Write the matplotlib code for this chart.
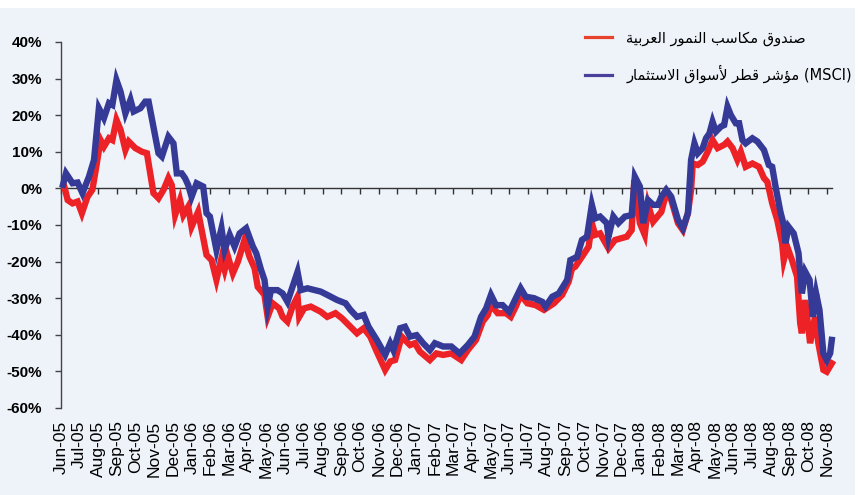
import matplotlib
matplotlib.use('Agg')
import matplotlib.pyplot as plt
from matplotlib.lines import Line2D
from matplotlib.patches import Rectangle
import pandas as pd

# months since 1 Jun 2005 and index values in %
months_msci = [0.11, 0.27, 0.62, 0.89, 1.15, 1.50, 1.77, 2.03, 2.30, 2.57, 2.75, 2.97, 3.19, 3.45, 3.72,
               3.89, 4.25, 4.51, 4.69, 5.22, 5.40, 5.75, 6.02, 6.20, 6.46, 6.64, 6.81, 6.99, 7.26, 7.61,
               7.79, 7.97, 8.32, 8.59, 8.76, 9.03, 9.29, 9.56, 9.91, 10.27, 10.45, 10.71, 10.89, 11.06,
               11.24, 11.59, 11.86, 12.12, 12.39, 12.66, 12.84, 13.19, 13.90, 14.25, 14.78, 15.23, 15.49,
               15.84, 16.20, 16.46, 16.90, 17.35, 17.62, 17.79, 18.15, 18.41, 18.68, 19.03, 19.38, 19.74,
               20.01, 20.45, 20.89, 21.33, 21.77, 22.13, 22.48, 22.75, 23.01, 23.28, 23.63, 23.99, 24.25,
               24.60, 24.87, 25.32, 25.76, 25.93, 26.29, 26.64, 27.09, 27.26, 27.62, 27.88, 28.15, 28.41,
               28.59, 28.85, 29.21, 29.30, 29.56, 29.83, 30.18, 30.54, 30.71, 30.98, 31.16, 31.42, 31.69,
               31.95, 32.13, 32.39, 32.66, 33.02, 33.28, 33.55, 33.72, 33.90, 34.08, 34.34, 34.52, 34.70,
               34.87, 35.05, 35.32, 35.49, 35.67, 35.85, 36.11, 36.29, 36.47, 36.64, 37.00, 37.27, 37.62,
               37.88, 38.06, 38.24, 38.50, 38.68, 38.77, 38.94, 39.21, 39.47, 39.65, 39.83, 40.06, 40.24,
               40.41, 40.59, 40.80, 40.98, 41.16, 41.25]
msci = [1.0, 4.1, 1.4, 1.6, -1.3, 3.2, 7.8, 21.9, 19.2, 23.3, 22.8, 29.6, 26.4, 20.5, 24.2,
        21.0, 21.9, 23.7, 23.7, 9.6, 8.7, 14.1, 12.3, 4.1, 4.1, 2.8, 0.9, -2.3, 1.4, 0.5,
        -6.8, -7.7, -16.8, -10.9, -16.8, -12.7, -15.9, -12.3, -10.9, -15.9, -17.7, -22.3, -25.0, -32.3,
        -27.8, -27.8, -28.7, -31.0, -26.9, -22.8, -27.8, -27.3, -28.2, -29.1, -30.5, -31.4, -33.2,
        -35.1, -34.6, -37.8, -41.4, -45.5, -42.3, -44.2, -38.2, -37.8, -40.5, -40.1, -42.3, -44.2,
        -42.3, -43.2, -43.2, -45.1, -42.8, -40.5, -35.1, -32.8, -29.1, -31.9, -31.9, -33.7, -31.0,
        -27.3, -29.6, -30.0, -31.0, -32.3, -29.6, -28.7, -25.0, -19.6, -18.7, -14.1, -13.2, -4.5,
        -8.2, -7.7, -9.5, -13.2, -7.7, -9.5, -7.7, -7.3, 3.2, 0.5, -9.5, -3.2, -4.5,
        -4.5, -2.3, -0.4, -2.3, -8.6, -10.9, -6.8, 7.8, 12.3, 9.6, 11.0, 13.7, 15.0,
        18.2, 15.5, 16.9, 17.3, 22.3, 20.0, 17.8, 17.8, 13.2, 12.3, 13.7, 12.8, 10.5,
        6.4, 5.9, 0.5, -6.4, -10.0, -15.0, -10.5, -12.3, -17.7, -28.7, -22.8, -25.0, -35.1,
        -28.7, -33.2, -45.1, -46.9, -45.1, -41.4]

months_fund = [0.18, 0.36, 0.62, 0.89, 1.12, 1.42, 1.68, 1.86, 2.12, 2.30, 2.57, 2.75, 2.97, 3.19, 3.45,
               3.63, 3.98, 4.34, 4.60, 4.95, 5.22, 5.49, 5.75, 5.93, 6.11, 6.37, 6.55, 6.81, 6.99, 7.34,
               7.53, 7.79, 8.06, 8.32, 8.59, 8.76, 8.94, 9.20, 9.47, 9.82, 10.09, 10.36, 10.53, 10.89,
               11.06, 11.33, 11.68, 11.86, 12.12, 12.39, 12.66, 12.75, 13.01, 13.37, 13.90, 14.25, 14.69,
               15.04, 15.49, 15.84, 16.20, 16.55, 16.90, 17.35, 17.62, 17.88, 18.23, 18.68, 18.94, 19.21,
               19.74, 20.09, 20.45, 20.89, 21.42, 21.77, 22.21, 22.57, 22.84, 23.01, 23.37, 23.81, 24.07,
               24.34, 24.60, 24.96, 25.40, 25.85, 26.38, 26.82, 27.17, 27.35, 27.52, 27.88, 28.24, 28.41,
               28.59, 28.85, 29.30, 29.65, 30.28, 30.54, 30.68, 30.98, 31.24, 31.42, 31.69, 32.13, 32.39,
               32.66, 33.02, 33.28, 33.55, 33.72, 33.81, 34.08, 34.34, 34.61, 34.87, 35.14, 35.49, 35.67,
               35.94, 36.20, 36.38, 36.64, 37.00, 37.35, 37.62, 37.80, 38.06, 38.33, 38.59, 38.68, 38.86,
               39.12, 39.39, 39.56, 39.65, 39.83, 40.09, 40.35, 40.53, 40.80, 40.98, 41.25]
fund = [0.5, -3.2, -4.1, -3.6, -6.8, -2.3, -0.4, 5.0, 13.2, 11.4, 13.7, 13.2, 18.7, 16.0, 10.5,
        12.8, 11.0, 10.0, 9.6, -1.3, -2.7, -0.4, 2.8, 0.9, -7.3, -3.2, -7.3, -5.0, -10.5, -6.4,
        -11.4, -18.2, -19.6, -25.0, -19.1, -22.3, -18.7, -23.2, -20.0, -14.1, -18.7, -21.8, -26.9, -29.1,
        -35.1, -31.4, -32.8, -35.1, -36.4, -32.3, -29.6, -35.1, -32.8, -32.3, -33.7, -35.1, -34.1,
        -35.5, -37.8, -39.6, -38.2, -40.5, -44.6, -49.6, -47.3, -46.9, -40.5, -42.8, -42.3, -44.6,
        -46.9, -45.1, -45.5, -45.1, -46.9, -44.2, -41.4, -36.4, -34.6, -31.9, -34.1, -34.1, -35.1,
        -32.3, -29.1, -31.4, -31.9, -33.2, -31.4, -29.1, -25.5, -21.8, -21.4, -18.7, -15.9, -9.5,
        -12.7, -12.3, -16.4, -14.1, -13.2, -11.4, 2.3, -9.5, -12.7, -4.5, -9.1, -6.4, -1.3,
        -3.2, -9.5, -11.4, -6.8, -0.4, 6.8, 6.4, 7.3, 10.0, 13.2, 11.0, 11.9, 12.8,
        11.0, 7.8, 10.0, 5.9, 6.8, 5.9, 2.8, 1.8, -4.1, -8.6, -15.0, -19.6, -15.9,
        -19.6, -24.1, -36.9, -39.6, -30.5, -42.3, -35.1, -42.3, -49.6, -50.1, -47.8]

month_labels = list(pd.date_range('2005-06-01', periods=42, freq='MS').strftime('%b-%y'))
y_ticks = [-60, -50, -40, -30, -20, -10, 0, 10, 20, 30, 40]

label_fund = 'صندوق مكاسب النمور العربية'
label_msci = 'مؤشر قطر لأسواق الاستثمار'

# --- minimal arabic shaping (matplotlib has no complex text layout) ---
FORMS = {
    'ا': (0xFE8D, 0xFE8E), 'أ': (0xFE83, 0xFE84), 'ؤ': (0xFE85, 0xFE86),
    'ة': (0xFE93, 0xFE94), 'د': (0xFEA9, 0xFEAA), 'ر': (0xFEAD, 0xFEAE),
    'و': (0xFEED, 0xFEEE),
    'ب': (0xFE8F, 0xFE90, 0xFE91, 0xFE92), 'ت': (0xFE95, 0xFE96, 0xFE97, 0xFE98),
    'ث': (0xFE99, 0xFE9A, 0xFE9B, 0xFE9C), 'س': (0xFEB1, 0xFEB2, 0xFEB3, 0xFEB4),
    'ش': (0xFEB5, 0xFEB6, 0xFEB7, 0xFEB8), 'ص': (0xFEB9, 0xFEBA, 0xFEBB, 0xFEBC),
    'ط': (0xFEC1, 0xFEC2, 0xFEC3, 0xFEC4), 'ع': (0xFEC9, 0xFECA, 0xFECB, 0xFECC),
    'ق': (0xFED5, 0xFED6, 0xFED7, 0xFED8), 'ك': (0xFED9, 0xFEDA, 0xFEDB, 0xFEDC),
    'ل': (0xFEDD, 0xFEDE, 0xFEDF, 0xFEE0), 'م': (0xFEE1, 0xFEE2, 0xFEE3, 0xFEE4),
    'ن': (0xFEE5, 0xFEE6, 0xFEE7, 0xFEE8), 'ي': (0xFEF1, 0xFEF2, 0xFEF3, 0xFEF4),
}
LAM_ALEF = {'ا': (0xFEFB, 0xFEFC), 'أ': (0xFEF7, 0xFEF8)}


def shape(text):
    toks = []
    i = 0
    while i < len(text):
        ch = text[i]
        if ch == 'ل' and i + 1 < len(text) and text[i + 1] in LAM_ALEF:
            toks.append(LAM_ALEF[text[i + 1]])
            i += 2
            continue
        toks.append(FORMS.get(ch, ch))
        i += 1
    out = []
    for k, t in enumerate(toks):
        if isinstance(t, str):
            out.append(t)
            continue
        prev = k > 0 and isinstance(toks[k - 1], tuple) and len(toks[k - 1]) == 4
        nxt = len(t) == 4 and k + 1 < len(toks) and isinstance(toks[k + 1], tuple)
        if prev and nxt:
            c = t[3]
        elif nxt:
            c = t[2]
        elif prev:
            c = t[1]
        else:
            c = t[0]
        out.append(chr(c))
    return ''.join(out)[::-1]


plt.rcParams['font.family'] = ['Liberation Sans', 'DejaVu Sans']

fig = plt.figure(figsize=(8.61, 4.95), dpi=100, facecolor='white')
fig.patches.append(Rectangle((0, 0), 855 / 861, 487 / 495, transform=fig.transFigure,
                             facecolor='#eef3fa', edgecolor='none', zorder=-10))
ax = fig.add_axes([0.0708, 0.1758, 0.8955, 0.7394])
ax.set_facecolor('none')

red = '#ec2227'
blue = '#363a97'
ax.plot(months_fund, fund, color=red, lw=4.6, solid_joinstyle='miter', clip_on=False, zorder=3)
ax.plot(months_msci, msci, color=blue, lw=4.6, solid_joinstyle='miter', clip_on=False, zorder=4)

ax.set_xlim(0.32, 41.26)
ax.set_ylim(-60, 40)

ax.set_yticks(y_ticks)
ax.set_yticklabels([f'{v}%' for v in y_ticks], fontweight='bold', fontsize=11)
ax.tick_params(axis='y', direction='out', length=4.5, width=1, color='#444', pad=9)

ax.set_xticks(range(len(month_labels)))
ax.set_xticklabels(month_labels, rotation=90, fontsize=12.5)
ax.tick_params(axis='x', length=0, pad=9)

for s in ['top', 'right', 'bottom']:
    ax.spines[s].set_visible(False)
ax.spines['left'].set_color('#444')
ax.spines['left'].set_linewidth(1)

# zero line with month ticks
zero = ax.secondary_xaxis(0.6)
zero.set_alignment('bottom')
zero.set_xticks(range(len(month_labels)))
zero.tick_params(axis='x', direction='out', length=4, width=1, color='#333', labelbottom=False)
zero.spines['bottom'].set_color('#333')
zero.spines['bottom'].set_linewidth(1)

handles = [Line2D([], [], color='#e8412c', lw=2.3),
           Line2D([], [], color='#4b3f9c', lw=2.3)]
fig.legend(handles, [shape(label_fund), shape(label_msci) + ' (MSCI)'],
           loc='upper left', bbox_to_anchor=(0.664, 0.965), frameon=False,
           handlelength=1.85, handletextpad=1.0, labelspacing=1.3,
           prop={'family': ['DejaVu Sans'], 'size': 10.5})

fig.savefig('out.png', dpi=100)
